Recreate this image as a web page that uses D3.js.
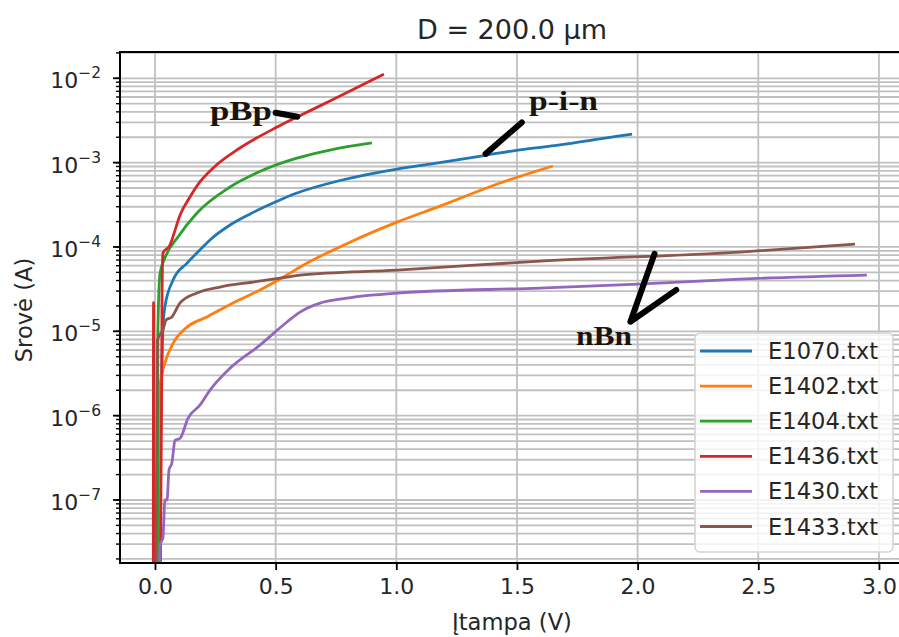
<!DOCTYPE html>
<html>
<head>
<meta charset="utf-8">
<script src="https://cdn.jsdelivr.net/npm/d3@7"></script>
<style>
  html, body { margin: 0; padding: 0; background: #fff; }
  svg { display: block; font-family: "DejaVu Sans", sans-serif; }
</style>
</head>
<body>
<svg id="chart" width="899" height="637"></svg>
<script>
// I–V curves of six samples, D = 200.0 µm (voltage in V, current in A)
const seriesNames = ["E1070.txt", "E1402.txt", "E1404.txt", "E1436.txt", "E1430.txt", "E1433.txt"];
const seriesColors = ["#1f77b4", "#ff7f0e", "#2ca02c", "#d62728", "#9467bd", "#8c564b"];

const e1070V = [0.015, 0.033, 0.041, 0.075, 0.133, 0.186, 0.228, 0.311, 0.394, 0.501, 0.588, 0.767, 1.003, 1.140, 1.376, 1.504, 1.678, 1.844, 1.977];
const e1070I = [1e-8, 1.12e-5, 1.95e-5, 4.05e-5, 6.44e-5, 9.2e-5, 1.21e-4, 1.82e-4, 2.46e-4, 3.43e-4, 4.36e-4, 6.14e-4, 8.4e-4, 9.62e-4, 1.23e-3, 1.41e-3, 1.62e-3, 1.91e-3, 2.18e-3];

const e1402V = [0.015, 0.021, 0.041, 0.075, 0.133, 0.215, 0.323, 0.435, 0.547, 0.601, 0.808, 1.003, 1.181, 1.430, 1.649];
const e1402I = [1e-8, 2.3e-6, 4.2e-6, 7.2e-6, 1.12e-5, 1.48e-5, 2.17e-5, 3.09e-5, 4.65e-5, 5.78e-5, 1.14e-4, 1.97e-4, 3.05e-4, 5.73e-4, 9.12e-4];

const e1404V = [0.010, 0.012, 0.021, 0.041, 0.095, 0.174, 0.311, 0.448, 0.588, 0.725, 0.899];
const e1404I = [1e-8, 1.03e-5, 4.9e-5, 7.4e-5, 1.31e-4, 2.53e-4, 5.14e-4, 8.17e-4, 1.13e-3, 1.41e-3, 1.71e-3];

const e1436V = [-0.007, -0.006, -0.004, 0.022, 0.028, 0.029, 0.033, 0.062, 0.070, 0.104, 0.145, 0.186, 0.240, 0.352, 0.506, 0.593, 0.725, 0.949];
const e1436I = [1e-8, 2.2e-5, 1e-8, 1e-8, 3.2e-6, 2.35e-5, 8.5e-5, 1.05e-4, 1.21e-4, 2.39e-4, 3.91e-4, 5.9e-4, 8.6e-4, 1.49e-3, 2.64e-3, 3.52e-3, 5.38e-3, 1.12e-2];

const e1430V = [0.018, 0.021, 0.033, 0.041, 0.050, 0.058, 0.070, 0.083, 0.104, 0.137, 0.186, 0.228, 0.311, 0.435, 0.547, 0.601, 0.684, 0.767, 1.003, 1.596, 2.002, 2.424, 2.950];
const e1430I = [1e-8, 2.9e-8, 3.6e-8, 1e-7, 1e-7, 2.27e-7, 2.75e-7, 5.1e-7, 5.4e-7, 9.35e-7, 1.33e-6, 2.01e-6, 3.66e-6, 6.87e-6, 1.29e-5, 1.69e-5, 2.16e-5, 2.41e-5, 2.84e-5, 3.26e-5, 3.63e-5, 4.16e-5, 4.64e-5];

const e1433V = [0.004, 0.010, 0.033, 0.046, 0.070, 0.104, 0.174, 0.269, 0.406, 0.547, 0.601, 1.003, 1.596, 2.424, 2.901];
const e1433I = [1e-8, 7.9e-6, 1.04e-5, 1.36e-5, 1.48e-5, 2.17e-5, 2.85e-5, 3.35e-5, 3.84e-5, 4.4e-5, 4.64e-5, 5.32e-5, 6.8e-5, 8.7e-5, 1.08e-4];

const seriesV = [e1070V, e1402V, e1404V, e1436V, e1430V, e1433V];
const seriesI = [e1070I, e1402I, e1404I, e1436I, e1430I, e1433I];

const xTickValues = [0.0, 0.5, 1.0, 1.5, 2.0, 2.5, 3.0];
const yMajorExponents = [-7, -6, -5, -4, -3, -2];

// Hand-drawn labels added on top of the plot
const noteTexts = ["pBp", "p-i-n", "nBn"];
const noteAnchors = [[0.228, 3.2e-3], [1.55, 4.2e-3], [1.745, 6.85e-6]];
const noteStrokes = [
  [[0.50, 3.9e-3], [0.59, 3.5e-3]],
  [[1.37, 1.27e-3], [1.52, 3.0e-3]],
  [[2.07, 8.3e-5], [1.97, 1.3e-5], [2.16, 3.1e-5]]
];

(function draw() {
  const svg = d3.select("#chart");
  const plotL = 120, plotR = 905, plotT = 52, plotB = 563;

  const x = d3.scaleLinear().domain([-0.145, 3.108]).range([plotL, plotR]);
  const y = d3.scaleLog().domain([1.79e-8, 2.05e-2]).range([plotB, plotT]);

  svg.append("defs").append("clipPath").attr("id", "plot-clip")
    .append("rect").attr("x", plotL).attr("y", plotT).attr("width", plotR - plotL).attr("height", plotB - plotT);

  // y grid: majors and minors
  const yGridValues = [];
  for (let e = -8; e <= -2; e++) {
    for (let m = 1; m <= 9; m++) {
      const v = m * Math.pow(10, e);
      if (v >= y.domain()[0] && v <= y.domain()[1]) yGridValues.push(v);
    }
  }
  const grid = svg.append("g");
  grid.selectAll("line.yg").data(yGridValues).join("line")
    .attr("x1", plotL).attr("x2", plotR)
    .attr("y1", d => y(d)).attr("y2", d => y(d))
    .attr("stroke", "#c0c0c0").attr("stroke-width", 1.8);
  grid.selectAll("line.xg").data(xTickValues).join("line")
    .attr("x1", d => x(d)).attr("x2", d => x(d))
    .attr("y1", plotT).attr("y2", plotB)
    .attr("stroke", "#c0c0c0").attr("stroke-width", 1.8);

  // Curves
  const line = d3.line().x(d => x(d[0])).y(d => y(d[1]));
  const smooth = d3.line().x(d => x(d[0])).y(d => y(d[1])).curve(d3.curveMonotoneX);
  const curves = svg.append("g").attr("clip-path", "url(#plot-clip)");
  seriesNames.forEach((name, i) => {
    const pts = seriesV[i].map((v, k) => [v, seriesI[i][k]]);
    curves.append("path").datum(pts)
      .attr("d", smooth)
      .attr("fill", "none")
      .attr("stroke", seriesColors[i])
      .attr("stroke-width", 2.8)
      .attr("stroke-linejoin", "round");
  });

  // Axes
  const xAxis = d3.axisBottom(x).tickValues(xTickValues).tickFormat(d3.format(".1f")).tickSize(7).tickPadding(6);
  const gx = svg.append("g").attr("transform", `translate(0,${plotB})`).call(xAxis);
  gx.select(".domain").remove();
  gx.selectAll(".tick line").attr("stroke", "#000").attr("stroke-width", 1.8);
  gx.selectAll(".tick text").attr("font-size", 22).attr("fill", "#262626")
    .attr("font-family", "DejaVu Sans").attr("y", 15);

  const gy = svg.append("g");
  gy.selectAll("line.minor").data(yGridValues).join("line")
    .attr("x1", plotL - 4).attr("x2", plotL)
    .attr("y1", d => y(d)).attr("y2", d => y(d))
    .attr("stroke", "#000").attr("stroke-width", 1.4);
  gy.selectAll("line.major").data(yMajorExponents).join("line")
    .attr("x1", plotL - 7).attr("x2", plotL)
    .attr("y1", d => y(Math.pow(10, d))).attr("y2", d => y(Math.pow(10, d)))
    .attr("stroke", "#000").attr("stroke-width", 1.8);
  const yLabels = gy.selectAll("text.ylab").data(yMajorExponents).join("text")
    .attr("x", 101).attr("y", d => y(Math.pow(10, d)) + 10)
    .attr("text-anchor", "end").attr("fill", "#262626").attr("font-size", 22);
  yLabels.append("tspan").text("10");
  yLabels.append("tspan").attr("font-size", 15.5).attr("dy", -10).text(d => "\u2212" + Math.abs(d));

  // Spines
  svg.append("path")
    .attr("d", `M${plotR},${plotT}H${plotL}V${plotB}H${plotR}`)
    .attr("fill", "none").attr("stroke", "#000").attr("stroke-width", 2);

  // Title and axis labels
  svg.append("text").attr("x", 512).attr("y", 39).attr("text-anchor", "middle")
    .attr("font-size", 27).attr("fill", "#262626").text("D = 200.0 µm");
  svg.append("text").attr("x", 512).attr("y", 630).attr("text-anchor", "middle")
    .attr("font-size", 22.6).attr("fill", "#262626").text("Įtampa (V)");
  svg.append("text").attr("transform", "translate(32,310) rotate(-90)").attr("text-anchor", "middle")
    .attr("font-size", 22.6).attr("fill", "#262626").text("Srovė (A)");

  // Legend
  const legend = svg.append("g");
  legend.append("rect").attr("x", 695).attr("y", 333).attr("width", 198).attr("height", 219)
    .attr("rx", 5).attr("fill", "#fff").attr("fill-opacity", 0.8)
    .attr("stroke", "#d4d4d4").attr("stroke-width", 1.6);
  seriesNames.forEach((name, i) => {
    const ly = 351 + i * 35.1;
    legend.append("line").attr("x1", 700).attr("x2", 752).attr("y1", ly).attr("y2", ly)
      .attr("stroke", seriesColors[i]).attr("stroke-width", 2.8);
    legend.append("text").attr("x", 768).attr("y", ly + 8).attr("font-size", 22.6)
      .attr("fill", "#262626").text(name);
  });

  // Annotations
  const notes = svg.append("g");
  const noteWidths = [62, 69, 56];
  noteTexts.forEach((t, i) => {
    notes.append("text")
      .attr("x", x(noteAnchors[i][0])).attr("y", y(noteAnchors[i][1]))
      .attr("font-family", "Liberation Serif, serif").attr("font-size", 28).attr("font-weight", "bold")
      .attr("textLength", noteWidths[i]).attr("lengthAdjust", "spacingAndGlyphs")
      .attr("fill", "#1c140c").text(t);
    notes.append("path").datum(noteStrokes[i])
      .attr("d", line).attr("fill", "none").attr("stroke", "#000")
      .attr("stroke-width", 6).attr("stroke-linecap", "round").attr("stroke-linejoin", "round");
  });
})();
</script>
</body>
</html>
